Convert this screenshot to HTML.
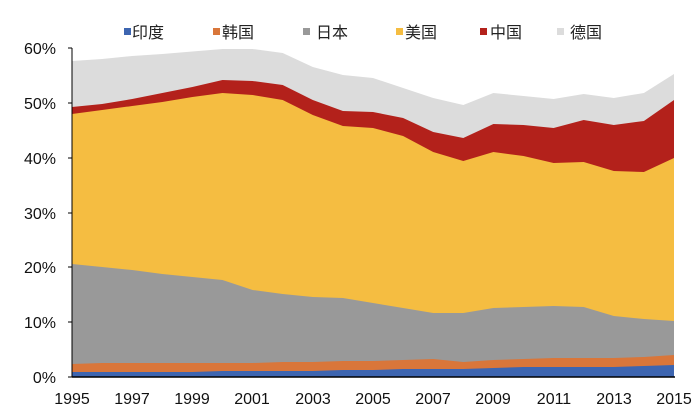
<!DOCTYPE html>
<html><head><meta charset="utf-8"><style>
html,body{margin:0;padding:0;background:#fff;}
svg{display:block;font-family:"Liberation Sans","Noto Sans CJK SC",sans-serif;}
</style></head><body>
<svg id="s" width="700" height="417" viewBox="0 0 700 417" xmlns="http://www.w3.org/2000/svg">
<g id="areas"></g>
<line x1="72" y1="48" x2="72" y2="377" stroke="#000" stroke-width="1"/>
<line x1="72" y1="377" x2="675" y2="377" stroke="#000" stroke-width="1.5"/>
<g stroke="#000" stroke-width="1">
<line x1="68" y1="48" x2="72" y2="48"/><line x1="68" y1="103" x2="72" y2="103"/><line x1="68" y1="158" x2="72" y2="158"/><line x1="68" y1="213" x2="72" y2="213"/><line x1="68" y1="267" x2="72" y2="267"/><line x1="68" y1="322" x2="72" y2="322"/><line x1="68" y1="377" x2="72" y2="377"/>
</g>
<g font-size="16" fill="#111" text-anchor="end">
<text x="56" y="54">60%</text><text x="56" y="109">50%</text><text x="56" y="164">40%</text><text x="56" y="219">30%</text><text x="56" y="273">20%</text><text x="56" y="328">10%</text><text x="56" y="383">0%</text>
</g>
<g font-size="16" fill="#111" text-anchor="middle">
<text x="72" y="404">1995</text><text x="132" y="404">1997</text><text x="192" y="404">1999</text><text x="252" y="404">2001</text><text x="313" y="404">2003</text><text x="373" y="404">2005</text><text x="433" y="404">2007</text><text x="493" y="404">2009</text><text x="554" y="404">2011</text><text x="614" y="404">2013</text><text x="674" y="404">2015</text>
</g>
<g font-size="16" fill="#222">
<rect x="124" y="28" width="7" height="7" fill="#3d65b0"/><text x="132" y="38">印度</text>
<rect x="213" y="28" width="7" height="7" fill="#d9763a"/><text x="222" y="38">韩国</text>
<rect x="303" y="28" width="7" height="7" fill="#999"/><text x="316" y="38">日本</text>
<rect x="396" y="28" width="7" height="7" fill="#f5bd41"/><text x="405" y="38">美国</text>
<rect x="480" y="28" width="7" height="7" fill="#b3211b"/><text x="490" y="38">中国</text>
<rect x="557" y="28" width="7" height="7" fill="#dcdcdc"/><text x="570" y="38">德国</text>
</g>
</svg>
<script>
var xs=[];for(var i=0;i<21;i++)xs.push(72+i*30.1);
var tops={
de:[61,59,56,54,51.5,49,49,53,67,75,78,88,98,105,93,96,99,94,98,93,74],
cn:[107,104,99,93,87,80,81,85,100,111,112,118,132,138,124,125,128,120,125,121,100],
us:[114,110,106,102,97,93,95,100,115,126,128,136,152,161,152,156,163,162,171,172,158],
jp:[264,267,270,274,277,280,290,294,297,298,303,308,313,313,308,307,306,307,316,319,321],
kr:[364,363,363,363,363,363,363,362,362,361,361,360,359,362,360,359,358,358,358,357,355],
in:[372,372,372,372,372,371,371,371,371,370,370,369,369,369,368,367,367,367,367,366,365]};
var cols={de:"#dcdcdc",cn:"#b3211b",us:"#f5bd41",jp:"#999999",kr:"#d9763a",in:"#3d65b0"};
var g=document.getElementById("areas"),h="";
["de","cn","us","jp","kr","in"].forEach(function(k){
 var p=xs.map(function(x,i){return x.toFixed(1)+","+tops[k][i];}).join(" ");
 p+=" 674,377 72,377";
 h+='<polygon points="'+p+'" fill="'+cols[k]+'"/>';
});
g.innerHTML=h;
</script>
</body></html>
